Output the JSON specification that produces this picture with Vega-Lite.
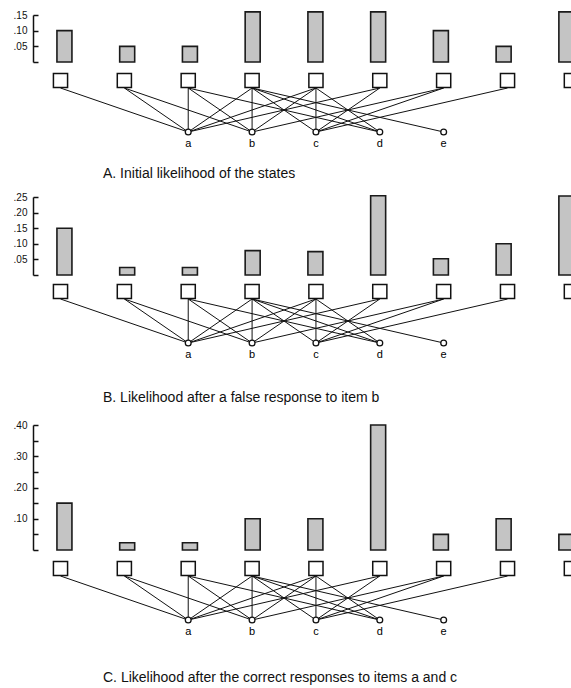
{
  "$schema": "https://vega.github.io/schema/vega-lite/v6.json",
  "padding": {"top": 10, "left": 0, "right": 0, "bottom": 0},
  "bounds": "flush",
  "spacing": 0,
  "background": "white",
  "config": {"view": {"stroke": null}, "font": "Liberation Sans"},
  "datasets": {
    "bars": [
      {"panel": "A", "state": 1, "p": 0.10}, {"panel": "A", "state": 2, "p": 0.05}, {"panel": "A", "state": 3, "p": 0.05},
      {"panel": "A", "state": 4, "p": 0.16}, {"panel": "A", "state": 5, "p": 0.16}, {"panel": "A", "state": 6, "p": 0.16},
      {"panel": "A", "state": 7, "p": 0.10}, {"panel": "A", "state": 8, "p": 0.05}, {"panel": "A", "state": 9, "p": 0.16},
      {"panel": "B", "state": 1, "p": 0.15}, {"panel": "B", "state": 2, "p": 0.024}, {"panel": "B", "state": 3, "p": 0.024},
      {"panel": "B", "state": 4, "p": 0.078}, {"panel": "B", "state": 5, "p": 0.075}, {"panel": "B", "state": 6, "p": 0.254},
      {"panel": "B", "state": 7, "p": 0.052}, {"panel": "B", "state": 8, "p": 0.10}, {"panel": "B", "state": 9, "p": 0.253},
      {"panel": "C", "state": 1, "p": 0.15}, {"panel": "C", "state": 2, "p": 0.023}, {"panel": "C", "state": 3, "p": 0.023},
      {"panel": "C", "state": 4, "p": 0.10}, {"panel": "C", "state": 5, "p": 0.10}, {"panel": "C", "state": 6, "p": 0.40},
      {"panel": "C", "state": 7, "p": 0.05}, {"panel": "C", "state": 8, "p": 0.10}, {"panel": "C", "state": 9, "p": 0.05}
    ],
    "items": [
      {"item": "a", "pos": 3}, {"item": "b", "pos": 4}, {"item": "c", "pos": 5}, {"item": "d", "pos": 6}, {"item": "e", "pos": 7}
    ],
    "links": [
      {"state": 1, "item": "a", "pos": 3},
      {"state": 2, "item": "a", "pos": 3}, {"state": 2, "item": "b", "pos": 4},
      {"state": 3, "item": "a", "pos": 3}, {"state": 3, "item": "b", "pos": 4}, {"state": 3, "item": "d", "pos": 6},
      {"state": 4, "item": "a", "pos": 3}, {"state": 4, "item": "b", "pos": 4}, {"state": 4, "item": "c", "pos": 5}, {"state": 4, "item": "d", "pos": 6}, {"state": 4, "item": "e", "pos": 7},
      {"state": 5, "item": "a", "pos": 3}, {"state": 5, "item": "b", "pos": 4}, {"state": 5, "item": "c", "pos": 5}, {"state": 5, "item": "d", "pos": 6},
      {"state": 6, "item": "a", "pos": 3}, {"state": 6, "item": "c", "pos": 5},
      {"state": 7, "item": "b", "pos": 4}, {"state": 7, "item": "c", "pos": 5},
      {"state": 8, "item": "c", "pos": 5}
    ]
  },
  "vconcat": [
    {
      "width": 571, "height": 47,
      "data": {"name": "bars"},
      "transform": [{"filter": "datum.panel == 'A'"}],
      "mark": {"type": "bar", "width": 15, "fill": "#c4c4c4", "stroke": "#1a1a1a", "strokeWidth": 1.6},
      "encoding": {
        "x": {"field": "state", "type": "quantitative", "scale": {"domain": [0.05262, 8.99405], "nice": false, "zero": false}, "axis": null},
        "y": {"field": "p", "type": "quantitative", "scale": {"domain": [0, 0.15], "nice": false},
              "axis": {"values": [0, 0.05, 0.1, 0.15], "offset": -33, "domainColor": "#111", "domainWidth": 1.5,
                       "tickSize": -5, "tickWidth": 1.5, "tickColor": "#111", "labelPadding": 11, "labelFontSize": 10,
                       "labelColor": "#111", "title": null, "grid": false,
                       "labelExpr": "datum.value > 0 ? slice(format(datum.value, '.2f'), 1) : ''"}}
      }
    },
    {
      "width": 571, "height": 135,
      "title": {"text": "A. Initial likelihood of the states", "orient": "bottom", "anchor": "start", "frame": "group", "dx": 103, "offset": -19,
                "baseline": "alphabetic", "fontSize": 14, "fontWeight": "normal", "color": "#111", "font": "Liberation Sans"},
      "layer": [
        {"data": {"name": "links"}, "transform": [{"fold": ["state", "pos"], "as": ["level", "col"]}],
         "mark": {"type": "line", "strokeWidth": 1, "color": "#111"},
         "encoding": {"x": {"field": "col", "type": "quantitative", "scale": {"domain": [0.05262, 8.99405], "nice": false, "zero": false}, "axis": null},
                      "y": {"field": "level", "type": "nominal", "scale": {"type": "point", "domain": ["state", "pos"], "range": [26, 70], "padding": 0}, "axis": null},
                      "detail": [{"field": "state"}, {"field": "item"}]}},
        {"data": {"name": "bars"}, "transform": [{"filter": "datum.panel == 'A'"}, {"fold": ["state"], "as": ["level", "col"]}],
         "mark": {"type": "square", "size": 200, "fill": "white", "stroke": "#111", "strokeWidth": 1.5, "opacity": 1, "yOffset": -7.5},
         "encoding": {"x": {"field": "col", "type": "quantitative", "axis": null}, "y": {"field": "level", "type": "nominal", "axis": null}}},
        {"data": {"name": "items"}, "transform": [{"fold": ["pos"], "as": ["level", "col"]}],
         "mark": {"type": "circle", "size": 34, "fill": "white", "stroke": "#111", "strokeWidth": 1.3, "opacity": 1},
         "encoding": {"x": {"field": "col", "type": "quantitative", "axis": null}, "y": {"field": "level", "type": "nominal", "axis": null}}},
        {"data": {"name": "items"}, "transform": [{"fold": ["pos"], "as": ["level", "col"]}],
         "mark": {"type": "text", "dy": 12, "fontSize": 11, "baseline": "middle", "fill": "#000"},
         "encoding": {"x": {"field": "col", "type": "quantitative", "axis": null}, "y": {"field": "level", "type": "nominal", "axis": null}, "text": {"field": "item"}}}
      ]
    },
    {
      "width": 571, "height": 78,
      "data": {"name": "bars"},
      "transform": [{"filter": "datum.panel == 'B'"}],
      "mark": {"type": "bar", "width": 15, "fill": "#c4c4c4", "stroke": "#1a1a1a", "strokeWidth": 1.6},
      "encoding": {
        "x": {"field": "state", "type": "quantitative", "scale": {"domain": [0.05262, 8.99405], "nice": false, "zero": false}, "axis": null},
        "y": {"field": "p", "type": "quantitative", "scale": {"domain": [0, 0.25], "nice": false},
              "axis": {"values": [0, 0.05, 0.1, 0.15, 0.2, 0.25], "offset": -33, "domainColor": "#111", "domainWidth": 1.5,
                       "tickSize": -5, "tickWidth": 1.5, "tickColor": "#111", "labelPadding": 11, "labelFontSize": 10,
                       "labelColor": "#111", "title": null, "grid": false,
                       "labelExpr": "datum.value > 0 ? slice(format(datum.value, '.2f'), 1) : ''"}}
      }
    },
    {
      "width": 571, "height": 150,
      "title": {"text": "B. Likelihood after a false response to item b", "orient": "bottom", "anchor": "start", "frame": "group", "dx": 103, "offset": -23,
                "baseline": "alphabetic", "fontSize": 14, "fontWeight": "normal", "color": "#111", "font": "Liberation Sans"},
      "layer": [
        {"data": {"name": "links"}, "transform": [{"fold": ["state", "pos"], "as": ["level", "col"]}],
         "mark": {"type": "line", "strokeWidth": 1, "color": "#111"},
         "encoding": {"x": {"field": "col", "type": "quantitative", "scale": {"domain": [0.05262, 8.99405], "nice": false, "zero": false}, "axis": null},
                      "y": {"field": "level", "type": "nominal", "scale": {"type": "point", "domain": ["state", "pos"], "range": [24, 68], "padding": 0}, "axis": null},
                      "detail": [{"field": "state"}, {"field": "item"}]}},
        {"data": {"name": "bars"}, "transform": [{"filter": "datum.panel == 'B'"}, {"fold": ["state"], "as": ["level", "col"]}],
         "mark": {"type": "square", "size": 200, "fill": "white", "stroke": "#111", "strokeWidth": 1.5, "opacity": 1, "yOffset": -7.5},
         "encoding": {"x": {"field": "col", "type": "quantitative", "axis": null}, "y": {"field": "level", "type": "nominal", "axis": null}}},
        {"data": {"name": "items"}, "transform": [{"fold": ["pos"], "as": ["level", "col"]}],
         "mark": {"type": "circle", "size": 34, "fill": "white", "stroke": "#111", "strokeWidth": 1.3, "opacity": 1},
         "encoding": {"x": {"field": "col", "type": "quantitative", "axis": null}, "y": {"field": "level", "type": "nominal", "axis": null}}},
        {"data": {"name": "items"}, "transform": [{"fold": ["pos"], "as": ["level", "col"]}],
         "mark": {"type": "text", "dy": 12, "fontSize": 11, "baseline": "middle", "fill": "#000"},
         "encoding": {"x": {"field": "col", "type": "quantitative", "axis": null}, "y": {"field": "level", "type": "nominal", "axis": null}, "text": {"field": "item"}}}
      ]
    },
    {
      "width": 571, "height": 125,
      "data": {"name": "bars"},
      "transform": [{"filter": "datum.panel == 'C'"}],
      "mark": {"type": "bar", "width": 15, "fill": "#c4c4c4", "stroke": "#1a1a1a", "strokeWidth": 1.6},
      "encoding": {
        "x": {"field": "state", "type": "quantitative", "scale": {"domain": [0.05262, 8.99405], "nice": false, "zero": false}, "axis": null},
        "y": {"field": "p", "type": "quantitative", "scale": {"domain": [0, 0.40], "nice": false},
              "axis": {"values": [0, 0.05, 0.1, 0.15, 0.2, 0.25, 0.3, 0.35, 0.4], "offset": -33, "domainColor": "#111", "domainWidth": 1.5,
                       "tickSize": -5, "tickWidth": 1.5, "tickColor": "#111", "labelPadding": 11, "labelFontSize": 10,
                       "labelColor": "#111", "title": null, "grid": false,
                       "labelExpr": "datum.value > 0 && abs(datum.value * 10 - round(datum.value * 10)) < 0.001 ? slice(format(datum.value, '.2f'), 1) : ''"}}
      }
    },
    {
      "width": 571, "height": 138,
      "title": {"text": "C. Likelihood after the correct responses to items a and c", "orient": "bottom", "anchor": "start", "frame": "group", "dx": 103, "offset": -6,
                "baseline": "alphabetic", "fontSize": 14, "fontWeight": "normal", "color": "#111", "font": "Liberation Sans"},
      "layer": [
        {"data": {"name": "links"}, "transform": [{"fold": ["state", "pos"], "as": ["level", "col"]}],
         "mark": {"type": "line", "strokeWidth": 1, "color": "#111"},
         "encoding": {"x": {"field": "col", "type": "quantitative", "scale": {"domain": [0.05262, 8.99405], "nice": false, "zero": false}, "axis": null},
                      "y": {"field": "level", "type": "nominal", "scale": {"type": "point", "domain": ["state", "pos"], "range": [26, 70], "padding": 0}, "axis": null},
                      "detail": [{"field": "state"}, {"field": "item"}]}},
        {"data": {"name": "bars"}, "transform": [{"filter": "datum.panel == 'C'"}, {"fold": ["state"], "as": ["level", "col"]}],
         "mark": {"type": "square", "size": 200, "fill": "white", "stroke": "#111", "strokeWidth": 1.5, "opacity": 1, "yOffset": -7.5},
         "encoding": {"x": {"field": "col", "type": "quantitative", "axis": null}, "y": {"field": "level", "type": "nominal", "axis": null}}},
        {"data": {"name": "items"}, "transform": [{"fold": ["pos"], "as": ["level", "col"]}],
         "mark": {"type": "circle", "size": 34, "fill": "white", "stroke": "#111", "strokeWidth": 1.3, "opacity": 1},
         "encoding": {"x": {"field": "col", "type": "quantitative", "axis": null}, "y": {"field": "level", "type": "nominal", "axis": null}}},
        {"data": {"name": "items"}, "transform": [{"fold": ["pos"], "as": ["level", "col"]}],
         "mark": {"type": "text", "dy": 12, "fontSize": 11, "baseline": "middle", "fill": "#000"},
         "encoding": {"x": {"field": "col", "type": "quantitative", "axis": null}, "y": {"field": "level", "type": "nominal", "axis": null}, "text": {"field": "item"}}}
      ]
    }
  ]
}
